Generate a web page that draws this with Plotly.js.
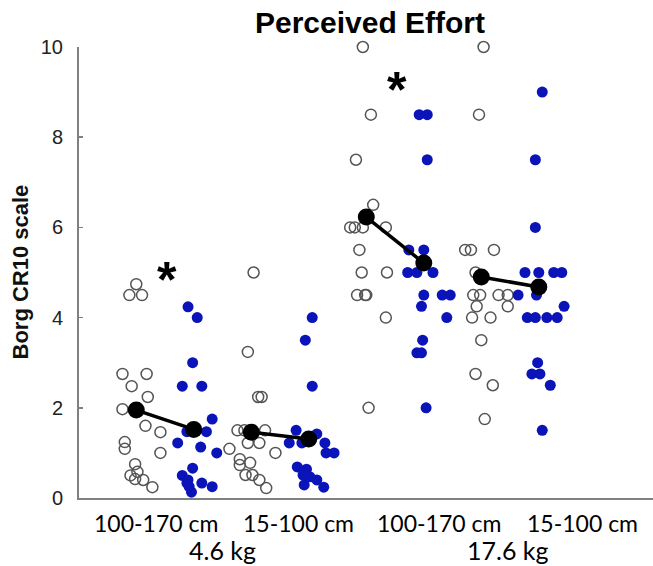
<!DOCTYPE html>
<html>
<head>
<meta charset="utf-8">
<script src="https://cdn.plot.ly/plotly-3.0.1.min.js"></script>
<style>html,body{margin:0;padding:0;background:#fff;}#chart{width:653px;height:566px;}</style>
</head>
<body>
<div id="chart"></div>
<script>
// ---- data ----
const groups = [1, 2, 3, 4];                 // 4.6 kg / 100-170, 4.6 kg / 15-100, 17.6 kg / 100-170, 17.6 kg / 15-100
const categoryLabels = ["100-170 cm", "15-100 cm", "100-170 cm", "15-100 cm"];
const loadLabels = ["4.6 kg", "17.6 kg"];

// open (white) circles: Borg ratings per group, with horizontal jitter
const openValues = [
  [4.74, 4.5, 4.5, 2.75, 2.75, 2.48, 2.24, 1.97, 1.6, 1.46, 1.24, 1.09, 1.0, 0.75, 0.58, 0.5, 0.42, 0.4, 0.24],
  [5.0, 3.24, 2.24, 2.24, 1.5, 1.5, 1.22, 1.22, 1.09, 1.0, 0.86, 0.78, 0.73, 0.51, 0.51, 0.4, 0.22, 1.5],
  [10.0, 8.5, 7.5, 6.5, 6.0, 6.0, 6.0, 6.0, 5.5, 5.0, 5.0, 4.5, 4.5, 4.0, 2.0, 4.5],
  [10.0, 8.5, 5.5, 5.5, 5.5, 5.0, 4.5, 4.5, 4.5, 4.25, 4.25, 4.0, 4.0, 3.5, 2.75, 2.5, 1.75, 4.5]
];
const openJitter = [
  [0, -0.06, 0.05, -0.12, 0.09, -0.04, 0.10, -0.12, 0.08, 0.21, -0.10, -0.10, 0.21, -0.01, 0.01, -0.05, -0.01, 0.06, 0.14],
  [0.02, -0.03, 0.06, 0.09, -0.12, 0.12, -0.03, 0.07, -0.19, 0.21, -0.10, -0.01, -0.10, -0.05, 0.01, 0.07, 0.13, -0.06],
  [-0.03, 0.04, -0.09, 0.06, -0.14, -0.10, -0.03, 0.17, -0.06, -0.04, 0.18, -0.08, -0.01, 0.17, 0.02, 0.0],
  [0.02, -0.02, -0.14, -0.09, 0.11, -0.05, -0.01, 0.15, 0.23, -0.04, 0.23, -0.08, 0.08, 0, -0.05, 0.10, 0.03, -0.07]
];

// filled (blue) circles
const blueValues = [
  [4.24, 4.0, 3.0, 2.48, 2.48, 1.75, 1.47, 1.47, 1.22, 1.13, 1.0, 0.66, 0.5, 0.4, 0.33, 0.25, 0.13, 0.33, 0.25],
  [4.0, 3.5, 2.48, 1.5, 1.42, 1.22, 1.22, 1.22, 1.0, 1.0, 0.69, 0.64, 0.51, 0.47, 0.4, 0.29, 0.24],
  [8.5, 8.5, 7.5, 5.5, 5.5, 5.0, 5.0, 5.0, 4.5, 4.5, 4.5, 4.25, 4.0, 3.5, 3.22, 3.22, 2.0],
  [9.0, 7.5, 6.0, 5.0, 5.0, 5.0, 5.0, 4.5, 4.5, 4.25, 4.0, 4.0, 4.0, 4.0, 3.0, 2.75, 2.75, 2.5, 1.5]
];
const blueJitter = [
  [-0.05, 0.03, -0.01, -0.10, 0.07, 0.16, 0.11, -0.06, -0.14, 0.06, 0.20, -0.01, -0.10, -0.05, -0.06, -0.04, -0.02, 0.07, 0.16],
  [0.03, -0.03, 0.03, -0.11, 0.07, -0.17, -0.06, 0.14, 0.15, 0.22, -0.10, -0.02, -0.05, 0.01, 0.07, -0.04, 0.13],
  [-0.04, 0.03, 0.03, -0.13, 0, -0.14, -0.06, 0.08, 0, 0.16, 0.23, -0.02, 0.20, -0.01, -0.06, -0.02, 0.02],
  [0.03, -0.03, -0.03, -0.12, 0, 0.13, 0.20, -0.18, -0.02, 0.22, -0.10, -0.03, 0.07, 0.16, -0.01, -0.06, 0.01, 0.10, 0.03]
];

// group means (open, blue)
const openMeans = [1.95, 1.46, 6.23, 4.9];
const blueMeans = [1.52, 1.31, 5.21, 4.68];

// significance markers
const sigGroups = [1, 3];
const sigHeights = [5.0, 9.2];

// ---- build traces ----
const SIDE = 0.25;
function strip(values, jitter, side) {
  const xs = [], ys = [];
  values.forEach((vals, gi) => {
    vals.forEach((v, i) => { xs.push(groups[gi] + side + jitter[gi][i]); ys.push(v); });
  });
  return {x: xs, y: ys};
}
const openPts = strip(openValues, openJitter, -SIDE);
const bluePts = strip(blueValues, blueJitter, SIDE);

const meanX = [], meanY = [];
groups.forEach((g, i) => {
  meanX.push(g - SIDE, g + SIDE, null);
  meanY.push(openMeans[i], blueMeans[i], null);
});

const ARIAL = '"Liberation Sans", Arial, sans-serif';
const CAL = 'Lato, "Open Sans", sans-serif';

const traces = [
  {type: 'scatter', mode: 'markers', x: openPts.x, y: openPts.y, cliponaxis: false, showlegend: false,
   marker: {symbol: 'circle', size: 11, color: 'rgba(255,255,255,0)', line: {color: '#555', width: 1.5}}},
  {type: 'scatter', mode: 'markers', x: bluePts.x, y: bluePts.y, cliponaxis: false, showlegend: false,
   marker: {symbol: 'circle', size: 11, color: '#0a14b8', line: {width: 0}}},
  {type: 'scatter', mode: 'lines+markers', x: meanX, y: meanY, cliponaxis: false, showlegend: false,
   connectgaps: false, line: {color: '#000', width: 3.5},
   marker: {symbol: 'circle', size: 17, color: '#000'}}
];

const annotations = [];
const labelX = [0.92, 2.16, 3.38, 4.63];
categoryLabels.forEach((t, i) => annotations.push({
  text: t, x: labelX[i], xref: 'x', xanchor: 'center', y: 0, yref: 'paper', yanchor: 'middle', yshift: -25,
  showarrow: false, font: {family: CAL, size: 23, color: '#000'}
}));
const loadX = [1.5, 3.98];
loadLabels.forEach((t, i) => annotations.push({
  text: t, x: loadX[i], xref: 'x', xanchor: 'center', y: 0, yref: 'paper', yanchor: 'middle', yshift: -52,
  showarrow: false, font: {family: CAL, size: 25, color: '#000'}
}));
sigGroups.forEach((g, i) => annotations.push({
  text: '<b>*</b>', x: g + 0.02, xref: 'x', xanchor: 'center', y: sigHeights[i], yref: 'y', yanchor: 'middle', yshift: -7,
  showarrow: false, font: {family: ARIAL, size: 50, color: '#000'}
}));
annotations.push({
  text: '<b>Borg CR10 scale</b>', textangle: -90, x: (20 - 79) / 574, xref: 'paper', xanchor: 'center',
  y: 0.5, yref: 'paper', yanchor: 'middle',
  showarrow: false, font: {family: ARIAL, size: 22, color: '#111'}
});

const layout = {
  width: 653, height: 566,
  margin: {l: 79, r: 0, t: 47, b: 68, pad: 0},
  paper_bgcolor: '#fff', plot_bgcolor: '#fff',
  font: {family: ARIAL, color: '#222'},
  title: {text: '<b>Perceived Effort</b>', x: 370 / 653, xref: 'container', xanchor: 'center',
          y: 1 - 22 / 566, yref: 'container', yanchor: 'middle',
          font: {family: ARIAL, size: 30, color: '#000'}},
  xaxis: {range: [0.252, 5.243], showline: true, linecolor: '#808080', linewidth: 2,
          showticklabels: false, ticks: '', showgrid: false, zeroline: false, fixedrange: true},
  yaxis: {range: [0, 10], tickvals: [0, 2, 4, 6, 8, 10], showline: true, linecolor: '#808080', linewidth: 2,
          ticks: 'inside', ticklen: 4, tickwidth: 1.5, tickcolor: '#808080',
          tickfont: {family: ARIAL, size: 20, color: '#222'}, ticklabelstandoff: 10,
          showgrid: false, zeroline: false, fixedrange: true},
  showlegend: false,
  annotations: annotations
};

Plotly.newPlot('chart', traces, layout, {displayModeBar: false, staticPlot: true});
</script>
</body>
</html>
